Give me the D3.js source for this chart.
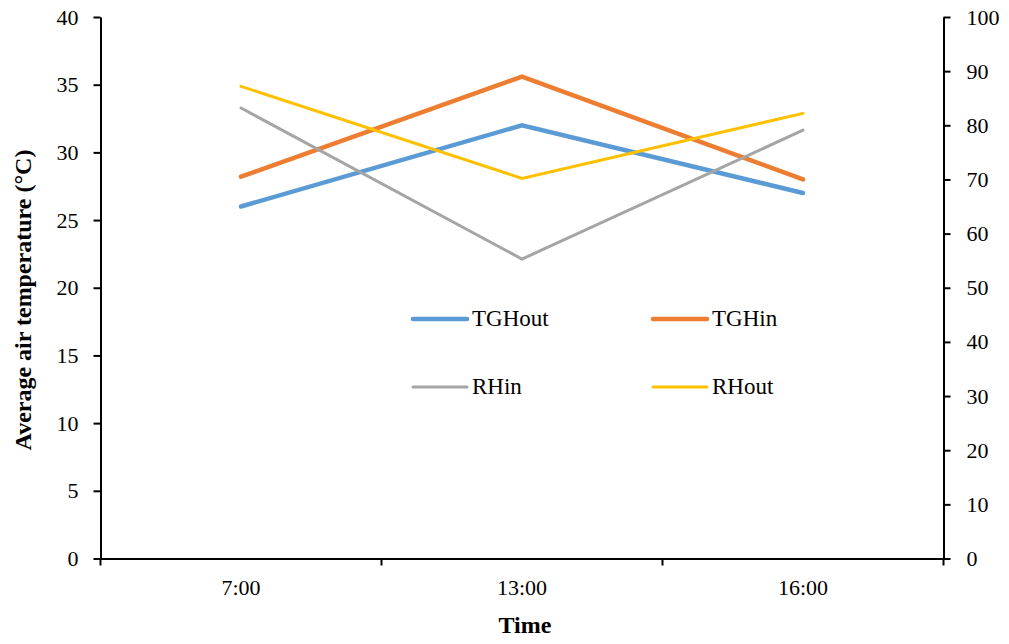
<!DOCTYPE html>
<html><head><meta charset="utf-8">
<script src="https://cdn.jsdelivr.net/npm/d3@7"></script>
<style>body{margin:0;background:#fff}svg text{font-family:"Liberation Serif","Times New Roman",serif !important}</style>
</head><body>
<svg id="c" width="1009" height="644" font-family="Liberation Serif"></svg>
<script>
const categories = ["7:00", "13:00", "16:00"];
const tghout = [26.0, 32.0, 27.0];
const tghin = [28.2, 35.6, 28.0];
const rhin = [83.2, 55.3, 79.1];
const rhout = [87.2, 70.2, 82.2];
const leftTicks = [0,5,10,15,20,25,30,35,40];
const rightTicks = [0,10,20,30,40,50,60,70,80,90,100];

const series = [
  {name:"TGHout", values:tghout, axis:"left", color:"#5B9BD5", w:4.5},
  {name:"TGHin", values:tghin, axis:"left", color:"#ED7D31", w:4.5},
  {name:"RHin", values:rhin, axis:"right", color:"#A5A5A5", w:3},
  {name:"RHout", values:rhout, axis:"right", color:"#FFC000", w:3}
];

const FONT = "'Liberation Serif', 'Times New Roman', serif";
const svg = d3.select("#c");
const L = 100.5, R = 943.5, T = 17, B = 558.5;
const x = d3.scaleBand().domain(categories).range([L, R]);
const yL = d3.scaleLinear().domain([0,40]).range([B, T]);
const yR = d3.scaleLinear().domain([0,100]).range([B, T]);

const gl = svg.append("g").attr("transform",`translate(${L},0)`)
  .call(d3.axisLeft(yL).tickValues(leftTicks).tickSize(7).tickSizeOuter(0).tickPadding(15));
const gr = svg.append("g").attr("transform",`translate(${R},0)`)
  .call(d3.axisRight(yR).tickValues(rightTicks).tickSize(7).tickSizeOuter(0).tickPadding(16));
const gx = svg.append("g").attr("transform",`translate(0,${B})`)
  .call(d3.axisBottom(x).tickSize(0).tickPadding(21));
const bounds = [L, ...categories.map(c => x(c) + x.bandwidth())];
gx.selectAll("line.bt").data(bounds).enter().append("line").attr("class","bt")
  .attr("x1",d=>d).attr("x2",d=>d).attr("y1",0).attr("y2",7).attr("stroke","#000").attr("stroke-width",2);

[gl,gr,gx].forEach(g=>{
  g.attr("font-size","22").attr("font-family",FONT);
  g.selectAll("path").attr("stroke","#000").attr("stroke-width",2);
  g.selectAll(".tick line").attr("stroke","#000").attr("stroke-width",2);
  g.selectAll("text").attr("fill","#000").style("font-size","22px").style("font-family",FONT);
});

const line = (ys) => d3.line().x((d,i)=>x(categories[i]) + x.bandwidth()/2).y(d=>ys(d));
series.forEach(s=>{
  svg.append("path").datum(s.values)
    .attr("d", line(s.axis==="left"?yL:yR))
    .attr("fill","none").attr("stroke",s.color).attr("stroke-width",s.w)
    .attr("stroke-linecap","round").attr("stroke-linejoin","miter");
});

const legPos = [[413,319],[653,319],[413,387],[653,387]];
series.forEach((s,i)=>{
  const [lx,ly] = legPos[i];
  svg.append("line").attr("x1",lx).attr("x2",lx+54).attr("y1",ly).attr("y2",ly)
    .attr("stroke",s.color).attr("stroke-width",s.w).attr("stroke-linecap","round");
  svg.append("text").attr("x",lx+59).attr("y",ly+7).text(s.name)
    .style("font-size","23px").style("font-family",FONT).attr("fill","#000");
});

svg.append("text").attr("transform",`translate(31,300) rotate(-90)`)
  .attr("text-anchor","middle").style("font-size","24px").style("font-weight","bold").style("font-family",FONT)
  .text("Average air temperature (°C)");
svg.append("text").attr("x",525).attr("y",633).attr("text-anchor","middle")
  .style("font-size","24px").style("font-weight","bold").style("font-family",FONT).text("Time");
</script>
</body></html>
